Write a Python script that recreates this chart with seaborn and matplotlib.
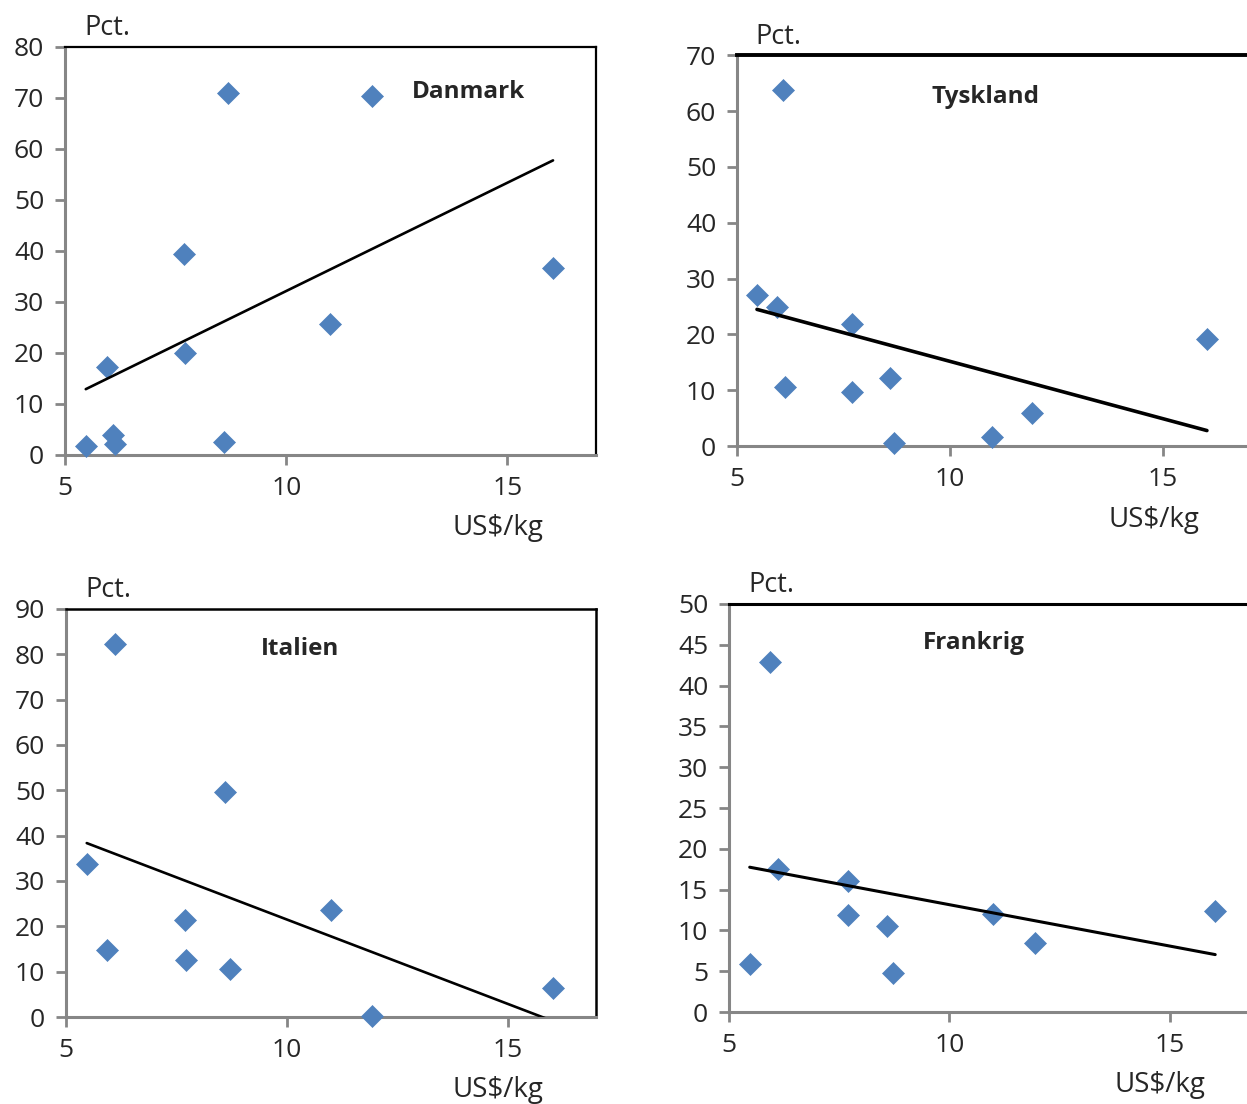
import numpy as np
import pandas as pd
import matplotlib
matplotlib.use('Agg')
import matplotlib.pyplot as plt
import seaborn as sns

sns.set_style('white')
plt.rcParams['font.family'] = ['Open Sans', 'DejaVu Sans']

# Prices (US$/kg), Danmark and Tyskland have 11 observations
price_dk_de = [5.47, 5.94, 6.08, 6.13, 7.69, 7.71, 8.59, 8.69, 10.99, 11.93, 16.03]
# Italien and Frankrig have 10 observations
price_it_fr = [5.47, 5.94, 6.12, 7.69, 7.71, 8.59, 8.71, 10.99, 11.94, 16.03]

# Pct. per country
danmark = [1.8, 17.3, 3.9, 2.2, 39.4, 20.0, 2.5, 71.0, 25.7, 70.4, 36.7]
tyskland = [27.0, 24.9, 63.7, 10.6, 21.8, 9.7, 12.2, 0.5, 1.6, 5.9, 19.2]
italien = [33.8, 14.8, 82.3, 21.4, 12.6, 49.6, 10.6, 23.6, 0.2, 6.4]
frankrig = [5.9, 42.9, 17.5, 16.1, 11.9, 10.5, 4.8, 12.0, 8.5, 12.4]

x_ticks = [5, 10, 15]

BLUE = '#4F81BD'
GREY = '#868686'

# name, x, y, axes rect, ymax, ystep, title pos, US$/kg y pos, top spine width, line width
panels = [
    ('Danmark', price_dk_de, danmark, [0.0521, 0.5879, 0.4258, 0.3696], 80, 10, (0.76, 0.89), -0.18, 1.6, 1.9),
    ('Tyskland', price_dk_de, tyskland, [0.591, 0.596, 0.410, 0.354], 70, 10, (0.487, 0.893), -0.19, 2.8, 2.6),
    ('Italien', price_it_fr, italien, [0.0529, 0.0788, 0.425, 0.3696], 90, 10, (0.4415, 0.902), -0.18, 1.8, 1.9),
    ('Frankrig', price_it_fr, frankrig, [0.5846, 0.0833, 0.4242, 0.3696], 50, 5, (0.463, 0.904), -0.18, 2.2, 2.2),
]

fig = plt.figure(figsize=(12.47, 11.04), dpi=100)

for name, xs, ys, rect, ymax, ystep, tpos, usd_y, topw, lw in panels:
    ax = fig.add_axes(rect)
    df = pd.DataFrame({'pris': xs, 'pct': ys})
    sns.scatterplot(data=df, x='pris', y='pct', ax=ax, marker='D', s=125,
                    color=BLUE, edgecolor=BLUE, linewidth=0.5, clip_on=False, zorder=3)
    sns.regplot(data=df, x='pris', y='pct', ax=ax, scatter=False, ci=None,
                line_kws={'color': 'black', 'lw': lw, 'zorder': 4})
    ax.set_xlim(5, 17)
    ax.set_ylim(0, ymax)
    ax.set_xticks(x_ticks)
    ax.set_yticks(np.arange(0, ymax + 1, ystep))
    ax.set_xlabel('')
    ax.set_ylabel('')
    for side in ['left', 'bottom']:
        ax.spines[side].set_color(GREY)
        ax.spines[side].set_linewidth(2.2)
    for side in ['top', 'right']:
        ax.spines[side].set_color('black')
        ax.spines[side].set_linewidth(topw)
    ax.tick_params(axis='both', direction='out', length=7, width=2, color=GREY,
                   labelsize=19, pad=8, left=True, bottom=True)
    ax.text(tpos[0], tpos[1], name, transform=ax.transAxes, fontsize=17.5,
            fontweight='bold', ha='center', va='center')
    ax.text(0.036, 1.047, 'Pct.', transform=ax.transAxes, fontsize=19.5,
            ha='left', va='center')
    ax.text(0.815, usd_y, 'US$/kg', transform=ax.transAxes, fontsize=20,
            ha='center', va='center')

fig.savefig('out.png', dpi=100)
